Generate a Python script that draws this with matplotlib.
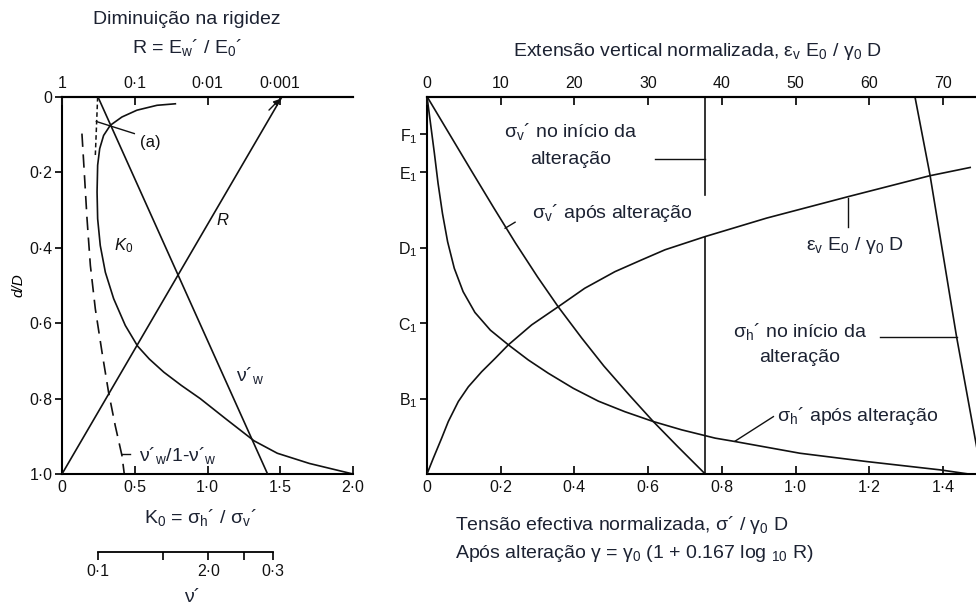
import numpy as np
import matplotlib
matplotlib.use('Agg')
import matplotlib.pyplot as plt

plt.rcParams['font.family'] = ['Liberation Sans', 'DejaVu Sans']
plt.rcParams['mathtext.fontset'] = 'custom'
plt.rcParams['mathtext.rm'] = 'Liberation Sans'
plt.rcParams['mathtext.it'] = 'Liberation Sans:italic'
plt.rcParams['mathtext.bf'] = 'Liberation Sans:bold'

# ---------------- left panel data (d/D measured downwards) ----------------
R_depth = [1.0, 0.0]
R_vals = [1.0, 0.00095]

nu_depth = [0.0, 1.0]
nu_w = [0.1, 0.29]

k0_depth = [0.018, 0.022, 0.035, 0.053, 0.075, 0.102, 0.137, 0.181, 0.252, 0.323,
            0.394, 0.465, 0.535, 0.606, 0.661, 0.695, 0.730, 0.765, 0.800, 0.855,
            0.912, 0.945, 0.972, 1.0]
k0_vals = [0.779, 0.653, 0.515, 0.412, 0.332, 0.286, 0.259, 0.245, 0.241, 0.245,
           0.263, 0.298, 0.355, 0.435, 0.520, 0.600, 0.700, 0.820, 0.950, 1.130,
           1.320, 1.480, 1.700, 2.0]

ratio_depth = [0.097, 0.199, 0.323, 0.447, 0.562, 0.677, 0.783, 0.872, 0.951, 1.0]
ratio_vals = [0.137, 0.153, 0.172, 0.195, 0.229, 0.275, 0.320, 0.366, 0.412, 0.428]

k0_ticks = [0, 0.5, 1.0, 1.5, 2.0]
k0_labels = ['0', '0·5', '1·0', '1·5', '2·0']
depth_ticks = [0, 0.2, 0.4, 0.6, 0.8, 1.0]
depth_labels = ['0', '0·2', '0·4', '0·6', '0·8', '1·0']
R_ticks = [1, 0.1, 0.01, 0.001]
R_labels = ['1', '0·1', '0·01', '0·001']
nu_ticks = [0.1, 0.15, 0.2, 0.25, 0.3]
nu_labels = ['0·1', '', '2·0', '', '0·3']

# ---------------- right panel data ----------------
sv_after_x = [0, 0.06, 0.12, 0.18, 0.24, 0.30, 0.356, 0.42, 0.48, 0.55,
              0.614, 0.68, 0.755]
sv_after_d = [0, 0.098, 0.196, 0.293, 0.388, 0.478, 0.557, 0.640, 0.714, 0.792,
              0.861, 0.927, 1.0]

sh_after_x = [0, 0.010, 0.020, 0.030, 0.042, 0.056, 0.074, 0.098, 0.130, 0.172,
              0.221, 0.275, 0.329, 0.397, 0.465, 0.537, 0.614, 0.691, 0.782, 0.836,
              1.012, 1.193, 1.392, 1.47]
sh_after_d = [0, 0.075, 0.150, 0.230, 0.310, 0.385, 0.455, 0.517, 0.572, 0.619,
              0.658, 0.698, 0.733, 0.773, 0.807, 0.835, 0.861, 0.883, 0.905, 0.914,
              0.945, 0.967, 0.989, 1.0]

sh_init_x = [1.324, 1.365, 1.437, 1.505]
sh_init_d = [0, 0.208, 0.636, 1.0]

sv_init_x = 0.755
sv_init_upper = [0, 0.261]
sv_init_lower = [0.371, 1.0]

strain_x = [0, 0.86, 1.99, 2.89, 4.25, 5.61, 7.42, 9.23, 11.03, 14.2, 17.8, 21.4,
            25.5, 29.1, 32.3, 37.75, 46.1, 57.2, 68.2, 73.7]
strain_d = [1.0, 0.958, 0.905, 0.861, 0.808, 0.769, 0.729, 0.694, 0.658, 0.605,
            0.557, 0.508, 0.464, 0.433, 0.406, 0.371, 0.322, 0.265, 0.210, 0.188]

stress_ticks = [0, 0.2, 0.4, 0.6, 0.8, 1.0, 1.2, 1.4]
stress_labels = ['0', '0·2', '0·4', '0·6', '0·8', '1·0', '1·2', '1·4']
strain_ticks = [0, 10, 20, 30, 40, 50, 60, 70]
level_ticks = [0.1, 0.2, 0.4, 0.6, 0.8]
level_labels = ['F$_1$', 'E$_1$', 'D$_1$', 'C$_1$', 'B$_1$']

W, H = 976, 606
INK = '#111111'
TXT = '#1c2232'
LW = 1.2


def fx(px):
    return px / W


def fy(py):
    return 1 - py / H


fig = plt.figure(figsize=(W / 100, H / 100), dpi=100)

# ======================= left panel =======================
ax = fig.add_axes([fx(62), fy(474), (353 - 62) / W, (474 - 97) / H])
ax.set_xlim(0, 2.0)
ax.set_ylim(1.0, 0)
for s in ['left', 'top', 'bottom']:
    ax.spines[s].set_linewidth(1.5)
ax.spines['right'].set_visible(False)
ax.set_xticks(k0_ticks, labels=k0_labels)
ax.set_yticks(depth_ticks, labels=depth_labels)
ax.tick_params(axis='x', direction='in', length=6, width=1.3, labelsize=11.5, pad=4, colors=INK)
ax.tick_params(axis='y', direction='out', length=5, width=1.3, labelsize=11.5, pad=2, colors=INK)
ax.set_ylabel('d/D', fontsize=11, style='italic', labelpad=3)

ax.plot(k0_vals, k0_depth, color=INK, lw=LW, solid_joinstyle='round')
ax.plot(ratio_vals, ratio_depth, color=INK, lw=LW, dashes=(8, 4.5))
ax.plot([0.245, 0.229], [0.0, 0.155], color=INK, lw=1.1, dashes=(3, 2))
ax.plot([0.236, 0.497], [0.065, 0.097], color=INK, lw=1.0)
ax.plot([0.412, 0.47], [0.947, 0.947], color=INK, lw=1.0)

# top stiffness-ratio axis (log)
ax_R = ax.twiny()
ax_R.set_xscale('log')
ax_R.set_xlim(1, 1e-4)
ax_R.set_xticks(R_ticks, labels=R_labels)
ax_R.xaxis.set_minor_locator(plt.NullLocator())
ax_R.tick_params(axis='x', direction='in', length=6, width=1.3, labelsize=11.5, pad=4, colors=INK)
for s in ['left', 'right', 'bottom']:
    ax_R.spines[s].set_visible(False)
ax_R.spines['top'].set_linewidth(1.5)
ax_R.plot(R_vals, R_depth, color=INK, lw=LW)
ax_R.annotate('', xy=(R_vals[-1], R_depth[-1]), xytext=(R_vals[-1] * 1.6, R_depth[-1] + 0.04),
              arrowprops=dict(arrowstyle='-|>', color=INK, lw=1.0, mutation_scale=9))

# Poisson ratio line on its own (log) scale
nu_lo, nu_hi = 0.07977, 0.4958
ax_nu = ax.twiny()
ax_nu.set_xscale('log')
ax_nu.set_xlim(nu_lo, nu_hi)
ax_nu.axis('off')
ax_nu.plot(nu_w, nu_depth, color=INK, lw=LW)

# separate nu' scale below
ax_ns = fig.add_axes([fx(62), fy(552), (353 - 62) / W, 0.0001])
ax_ns.set_xscale('log')
ax_ns.set_xlim(nu_lo, nu_hi)
ax_ns.patch.set_visible(False)
for s in ['left', 'right', 'top']:
    ax_ns.spines[s].set_visible(False)
ax_ns.spines['bottom'].set_bounds(nu_ticks[0], nu_ticks[-1])
ax_ns.spines['bottom'].set_linewidth(1.3)
ax_ns.set_yticks([])
ax_ns.set_xticks(nu_ticks, labels=nu_labels)
ax_ns.xaxis.set_minor_locator(plt.NullLocator())
ax_ns.tick_params(axis='x', direction='out', length=6, width=1.3, labelsize=11.5, pad=3, colors=INK)

# left panel texts
fig.text(fx(187), fy(20), 'Diminuição na rigidez', ha='center', va='center', fontsize=14, color=TXT)
fig.text(fx(187), fy(48), 'R = E$_\\mathrm{w}$´ / E$_0$´', ha='center', va='center', fontsize=14, color=TXT)
fig.text(fx(200), fy(518), 'K$_0$ = σ$_\\mathrm{h}$´ / σ$_\\mathrm{v}$´', ha='center', va='center', fontsize=14, color=TXT)
fig.text(fx(192), fy(598), 'ν´', ha='center', va='center', fontsize=14, color=TXT)
ax.text(1.10, 0.327, 'R', style='italic', fontsize=12, ha='center', va='center', color=INK)
ax.text(0.424, 0.394, '$K_0$', fontsize=12, ha='center', va='center', color=INK)
ax.text(1.294, 0.739, 'ν´$_\\mathrm{w}$', fontsize=14, ha='center', va='center', color=TXT)
ax.text(0.527, 0.95, 'ν´$_\\mathrm{w}$/1-ν´$_\\mathrm{w}$', fontsize=14, ha='left', va='center', color=TXT)
ax.text(0.538, 0.12, '(a)', fontsize=12, ha='left', va='center', color=INK)

# ======================= right panel =======================
x_max = (976 - 427) / 368.5
axr = fig.add_axes([fx(427), fy(474), (976 - 427) / W, (474 - 96.5) / H])
axr.set_xlim(0, x_max)
axr.set_ylim(1.0, 0)
for s in ['left', 'top', 'bottom']:
    axr.spines[s].set_linewidth(1.5)
axr.spines['right'].set_visible(False)
axr.set_xticks(stress_ticks, labels=stress_labels)
axr.set_yticks(level_ticks, labels=level_labels)
axr.tick_params(axis='x', direction='in', length=6, width=1.3, labelsize=11.5, pad=4, colors=INK)
axr.tick_params(axis='y', direction='out', length=5, width=1.3, labelsize=11.5, pad=2, colors=INK)

axr.plot(sv_after_x, sv_after_d, color=INK, lw=LW, solid_joinstyle='round')
axr.plot(sh_after_x, sh_after_d, color=INK, lw=LW, solid_joinstyle='round')
axr.plot(sh_init_x, sh_init_d, color=INK, lw=LW)
axr.plot([sv_init_x, sv_init_x], sv_init_upper, color=INK, lw=LW)
axr.plot([sv_init_x, sv_init_x], sv_init_lower, color=INK, lw=LW)

# leaders
axr.plot([0.619, 0.755], [0.166, 0.166], color=INK, lw=1.0)
axr.plot([0.212, 0.239], [0.349, 0.333], color=INK, lw=1.0)
axr.plot([1.143, 1.143], [0.27, 0.345], color=INK, lw=1.0)
axr.plot([1.229, 1.437], [0.637, 0.637], color=INK, lw=1.0)
axr.plot([0.836, 0.940], [0.913, 0.848], color=INK, lw=1.0)

axt = axr.twiny()
axt.set_xlim(0, x_max * 50)
axt.set_xticks(strain_ticks, labels=[str(t) for t in strain_ticks])
axt.tick_params(axis='x', direction='in', length=6, width=1.3, labelsize=11.5, pad=4, colors=INK)
for s in ['left', 'right', 'bottom']:
    axt.spines[s].set_visible(False)
axt.spines['top'].set_linewidth(1.5)
axt.plot(strain_x, strain_d, color=INK, lw=LW, solid_joinstyle='round')

# right panel texts
fig.text(fx(697), fy(52), 'Extensão vertical normalizada, ε$_\\mathrm{v}$ E$_0$ / γ$_0$ D',
         ha='center', va='center', fontsize=14, color=TXT)
fig.text(fx(571), fy(132), 'σ$_\\mathrm{v}$´ no início da', ha='center', va='center', fontsize=14, color=TXT)
fig.text(fx(571), fy(159), 'alteração', ha='center', va='center', fontsize=14, color=TXT)
fig.text(fx(532), fy(213), 'σ$_\\mathrm{v}$´ após alteração', ha='left', va='center', fontsize=14, color=TXT)
fig.text(fx(806), fy(245), 'ε$_\\mathrm{v}$ E$_0$ / γ$_0$ D', ha='left', va='center', fontsize=14, color=TXT)
fig.text(fx(800), fy(332), 'σ$_\\mathrm{h}$´ no início da', ha='center', va='center', fontsize=14, color=TXT)
fig.text(fx(800), fy(358), 'alteração', ha='center', va='center', fontsize=14, color=TXT)
fig.text(fx(777), fy(416), 'σ$_\\mathrm{h}$´ após alteração', ha='left', va='center', fontsize=14, color=TXT)
fig.text(fx(455), fy(525), 'Tensão efectiva normalizada, σ´ / γ$_0$ D', ha='left', va='center', fontsize=14, color=TXT)
fig.text(fx(455), fy(553), 'Após alteração γ = γ$_0$ (1 + 0.167 log $_{10}$ R)', ha='left', va='center',
         fontsize=14, color=TXT)

fig.savefig('out.png', dpi=100, facecolor='white')
